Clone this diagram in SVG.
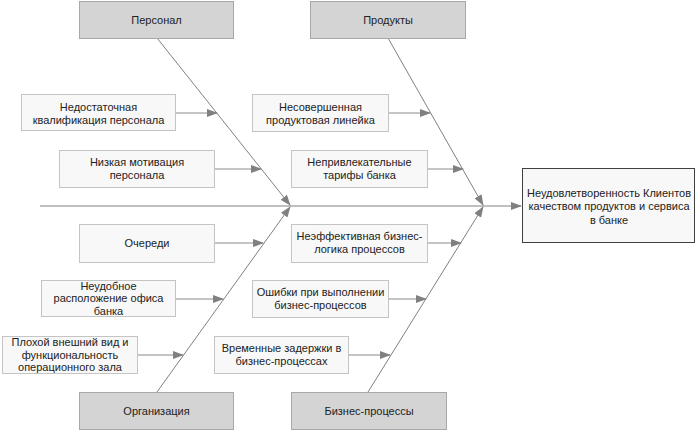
<svg xmlns="http://www.w3.org/2000/svg" width="698" height="432" viewBox="0 0 698 432">
<style>
text{font-family:"Liberation Sans",Arial,sans-serif;font-size:11px;fill:#222;text-anchor:middle}
.hdr{fill:#d4d4d4;stroke:#a8a8a8;stroke-width:1}
.box{fill:#f8f8f8;stroke:#c4c4c4;stroke-width:1}
.eff{fill:#f8f8f8;stroke:#404040;stroke-width:1}
.bone{stroke:#606060;stroke-width:0.8;fill:none}
.arr{stroke:#8a8a8a;stroke-width:1;fill:none}
</style>
<defs>
<marker id="ah" markerWidth="11" markerHeight="8" refX="10" refY="4" orient="auto" markerUnits="userSpaceOnUse">
<path d="M0,0 L11,4 L0,8 z" fill="#808080"/>
</marker>
</defs>
<rect width="698" height="432" fill="#fff"/>
<g id="connectors">
<line class="bone" x1="40" y1="206" x2="521" y2="206" marker-end="url(#ah)"/>
<line class="bone" x1="157" y1="38" x2="290" y2="205" marker-end="url(#ah)"/>
<line class="bone" x1="157" y1="392" x2="290" y2="207" marker-end="url(#ah)"/>
<line class="bone" x1="388" y1="38" x2="483" y2="205" marker-end="url(#ah)"/>
<line class="bone" x1="368" y1="392" x2="483" y2="207" marker-end="url(#ah)"/>
<line class="arr" x1="175" y1="113" x2="217" y2="113" marker-end="url(#ah)"/>
<line class="arr" x1="214" y1="169" x2="261" y2="169" marker-end="url(#ah)"/>
<line class="arr" x1="214" y1="243" x2="263" y2="243" marker-end="url(#ah)"/>
<line class="arr" x1="175" y1="299" x2="223" y2="299" marker-end="url(#ah)"/>
<line class="arr" x1="137" y1="355" x2="183" y2="355" marker-end="url(#ah)"/>
<line class="arr" x1="388" y1="113" x2="430" y2="113" marker-end="url(#ah)"/>
<line class="arr" x1="427" y1="169" x2="463" y2="169" marker-end="url(#ah)"/>
<line class="arr" x1="427" y1="243" x2="461" y2="243" marker-end="url(#ah)"/>
<line class="arr" x1="388" y1="299" x2="426" y2="299" marker-end="url(#ah)"/>
<line class="arr" x1="348" y1="355" x2="390" y2="355" marker-end="url(#ah)"/>
</g>
<g id="hdr-personal"><rect class="hdr" x="79.5" y="1.5" width="154" height="37"/><text x="156.5" y="24">Персонал</text></g>
<g id="hdr-products"><rect class="hdr" x="310.5" y="1.5" width="155" height="37"/><text x="388" y="24">Продукты</text></g>
<g id="hdr-org"><rect class="hdr" x="79.5" y="392.5" width="154" height="37"/><text x="156.5" y="415">Организация</text></g>
<g id="hdr-bp"><rect class="hdr" x="291.5" y="392.5" width="155" height="37"/><text x="369" y="415">Бизнес-процессы</text></g>
<g id="effect"><rect class="eff" x="522.5" y="168.5" width="172" height="74"/>
<text x="609" y="197">Неудовлетворенность Клиентов</text><text x="609" y="210">качеством продуктов и сервиса</text><text x="609" y="224">в банке</text></g>
<g id="c1"><rect class="box" x="21.5" y="94.5" width="154" height="36"/><text x="98.5" y="111">Недостаточная</text><text x="98.5" y="124">квалификация персонала</text></g>
<g id="c2"><rect class="box" x="59.5" y="150.5" width="155" height="37"/><text x="137" y="166">Низкая мотивация</text><text x="137" y="179">персонала</text></g>
<g id="c3"><rect class="box" x="79.5" y="224.5" width="135" height="38"/><text x="147" y="247">Очереди</text></g>
<g id="c4"><rect class="box" x="41.5" y="280.5" width="134" height="36"/><text x="108.5" y="289.5">Неудобное</text><text x="108.5" y="302">расположение офиса</text><text x="108.5" y="314.5">банка</text></g>
<g id="c5"><rect class="box" x="2.5" y="336.5" width="135" height="37"/><text x="70" y="346">Плохой внешний вид и</text><text x="70" y="359">функциональность</text><text x="70" y="371">операционного зала</text></g>
<g id="c6"><rect class="box" x="252.5" y="94.5" width="136" height="37"/><text x="320.5" y="111">Несовершенная</text><text x="320.5" y="124">продуктовая линейка</text></g>
<g id="c7"><rect class="box" x="291.5" y="150.5" width="136" height="37"/><text x="359.5" y="166">Непривлекательные</text><text x="359.5" y="179">тарифы банка</text></g>
<g id="c8"><rect class="box" x="291.5" y="224.5" width="136" height="38"/><text x="359.5" y="240">Неэффективная бизнес-</text><text x="359.5" y="253">логика процессов</text></g>
<g id="c9"><rect class="box" x="252.5" y="280.5" width="136" height="37"/><text x="320.5" y="296">Ошибки при выполнении</text><text x="320.5" y="309">бизнес-процессов</text></g>
<g id="c10"><rect class="box" x="214.5" y="336.5" width="134" height="37"/><text x="281.5" y="352">Временные задержки в</text><text x="281.5" y="365">бизнес-процессах</text></g>
</svg>
